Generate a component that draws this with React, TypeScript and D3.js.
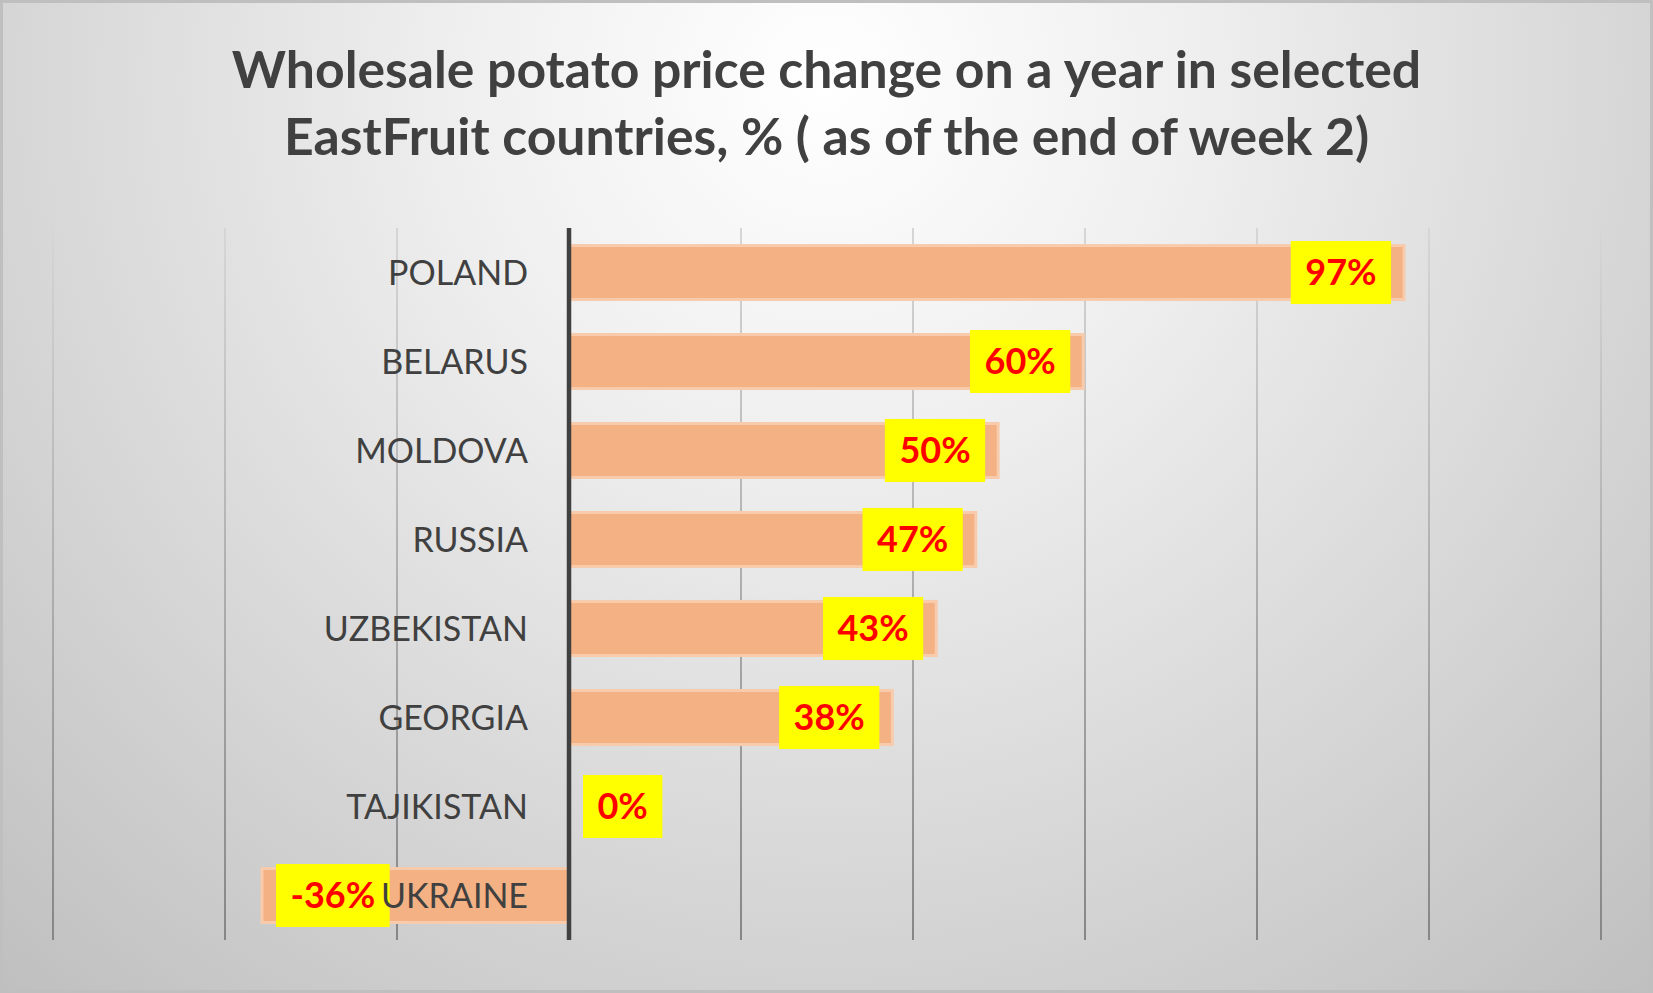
import React from "react";
import * as d3 from "d3";

const categories = ["POLAND", "BELARUS", "MOLDOVA", "RUSSIA", "UZBEKISTAN", "GEORGIA", "TAJIKISTAN", "UKRAINE"];
const values = [0.971, 0.598, 0.499, 0.473, 0.427, 0.376, 0, -0.357];
const gridTicks = [-0.6, -0.4, -0.2, 0.2, 0.4, 0.6, 0.8, 1.0, 1.2];
const titleLines = [
  "Wholesale potato price change on a year in selected",
  "EastFruit countries, % ( as of the end of week 2)",
];

const W = 1653;
const H = 993;
const FONT = "Lato, 'Open Sans', sans-serif";

function measure(text: string, font: string): number {
  if (typeof document === "undefined") return text.length * 20;
  const c = document.createElement("canvas");
  const ctx = c.getContext("2d");
  if (!ctx) return text.length * 20;
  ctx.font = font;
  return ctx.measureText(text).width;
}

export default function App() {
  const x = d3.scaleLinear().domain([-0.6, 1.2]).range([53, 1601]);
  const y = d3
    .scaleBand<string>()
    .domain(categories)
    .range([228, 940])
    .paddingInner(0.393)
    .paddingOuter(0.1966);
  const x0 = x(0);
  const fmt = (v: number) => d3.format(".0%")(v).replace("\u2212", "-");
  const labelFs = 36;
  const boxH = 63;
  const boxPad = 14.5;

  return (
    <svg width={W} height={H} style={{ position: "absolute", left: 0, top: 0 }}>
      <defs>
        <radialGradient id="bg" gradientUnits="userSpaceOnUse" cx={826} cy={80} r={1231}>
          <stop offset="0" stopColor="#ffffff" />
          <stop offset="0.3" stopColor="#efefef" />
          <stop offset="1" stopColor="#bfbfbf" />
        </radialGradient>
        <linearGradient id="grid" gradientUnits="userSpaceOnUse" x1={0} y1={228} x2={0} y2={940}>
          <stop offset="0" stopColor="#d6d6d6" />
          <stop offset="1" stopColor="#868686" />
        </linearGradient>
      </defs>
      <rect x={0} y={0} width={W} height={H} fill="url(#bg)" />
      <rect x={1.5} y={1.5} width={W - 3} height={H - 3} fill="none" stroke="#bfbfbf" strokeWidth={3} />

      {titleLines.map((t, i) => (
        <text
          key={i}
          x={W / 2}
          y={88 + i * 67}
          textAnchor="middle"
          fontFamily={FONT}
          fontWeight="bold"
          fontSize={51.7}
          fill="#404040"
        >
          {t}
        </text>
      ))}

      {gridTicks.map((t) => (
        <line key={t} x1={x(t)} x2={x(t)} y1={228} y2={940} stroke="url(#grid)" strokeWidth={2} />
      ))}

      {categories.map((c, i) => {
        const v = values[i];
        const bx = Math.min(x0, x(v));
        const bw = Math.abs(x(v) - x0);
        if (bw === 0) return null;
        return (
          <rect
            key={c}
            x={bx}
            y={y(c)!}
            width={bw}
            height={y.bandwidth()}
            fill="#F4B183"
            stroke="#F8CBAD"
            strokeWidth={3}
          />
        );
      })}

      {categories.map((c, i) => {
        const v = values[i];
        const label = fmt(v);
        const tw = measure(label, `bold ${labelFs}px Lato`);
        const bw = tw + boxPad * 2;
        const cy = y(c)! + y.bandwidth() / 2;
        const left = v > 0 ? x(v) - 13 - bw : x(v) + 14;
        return (
          <g key={c}>
            <rect x={left} y={cy - boxH / 2} width={bw} height={boxH} fill="#FFFF00" />
            <text
              x={left + bw / 2}
              y={cy + labelFs * 0.36}
              textAnchor="middle"
              fontFamily={FONT}
              fontWeight="bold"
              fontSize={labelFs}
              fill="#FF0000"
            >
              {label}
            </text>
          </g>
        );
      })}

      <line x1={x0} x2={x0} y1={228} y2={940} stroke="#404040" strokeWidth={4.5} />

      {categories.map((c) => (
        <text
          key={c}
          x={x0 - 41}
          y={y(c)! + y.bandwidth() / 2 + 34 * 0.36}
          textAnchor="end"
          fontFamily={FONT}
          fontSize={34}
          fill="#404040"
        >
          {c}
        </text>
      ))}
    </svg>
  );
}
